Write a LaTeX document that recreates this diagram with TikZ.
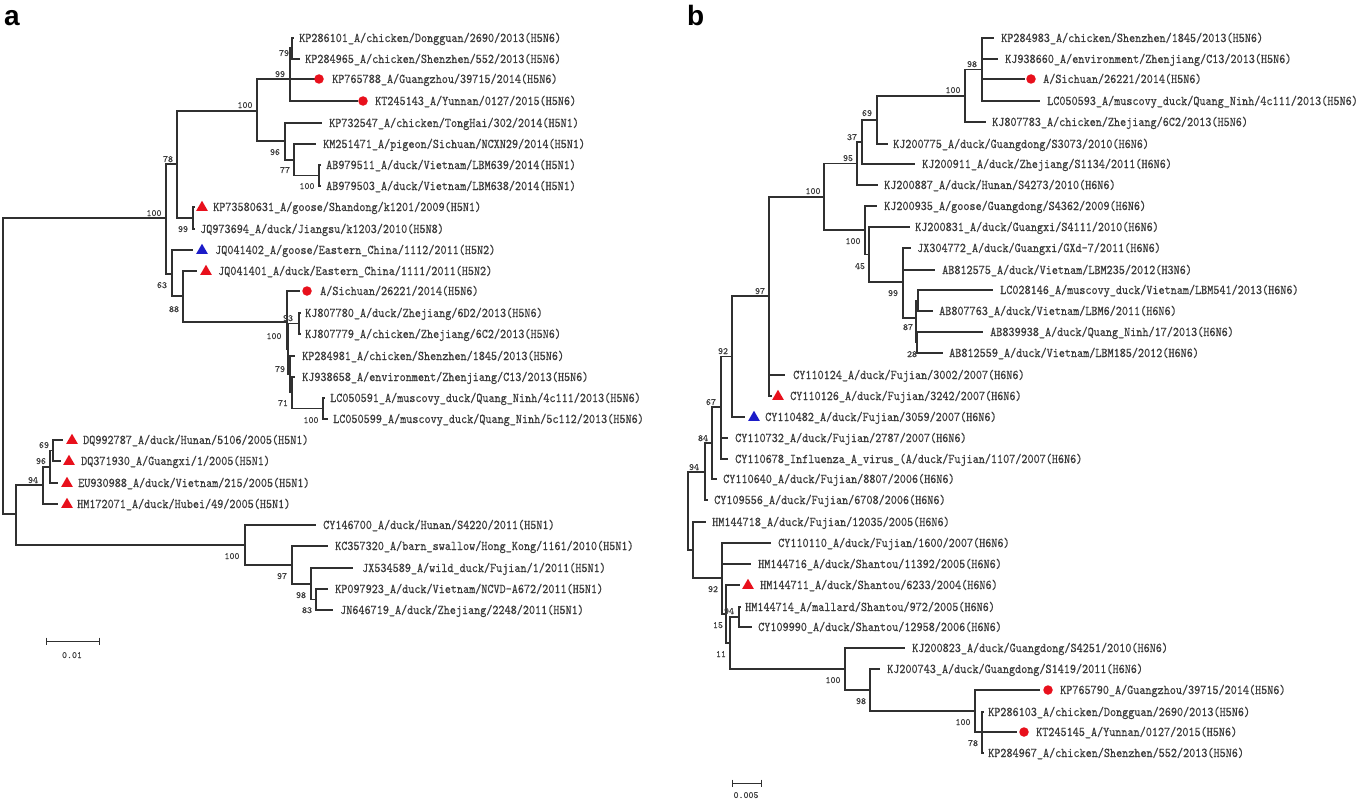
\documentclass[tikz,border=0pt]{standalone}
\usepackage{fontspec}
\usepackage{graphicx}
\newfontfamily\panelfont{Liberation Sans}
\newfontfamily\treefont{lmmono10-regular}[Extension=.otf,FakeBold=0.45]
\usetikzlibrary{shapes.geometric}
\definecolor{treeline}{HTML}{303030}
\definecolor{txtc}{HTML}{3C3C3C}
\definecolor{mred}{HTML}{E8101C}
\definecolor{mblue}{HTML}{1C1CC8}
\newcommand\lf[1]{\scalebox{1}[1.15]{#1}}
\newcommand\lfnode[4]{\node[leaf] (#1) at (#2,#3) {\lf{#4}};}
\newcommand\bsnode[4]{\node[bs] (#1) at (#2,#3) {#4};}
\begin{document}
\begin{tikzpicture}[x=1pt,y=-1pt,
  br/.style={draw=treeline,line width=1.1pt},
  leaf/.style={anchor=west,inner sep=0pt,text=txtc,font=\treefont\fontsize{11.6}{13}\selectfont,text height=8pt,text depth=0pt},
  bs/.style={inner sep=0pt,text=txtc,font=\treefont\fontsize{9.5}{10}\selectfont,text height=6pt,text depth=0pt},
  rc/.style={circle,fill=mred,inner sep=0pt,minimum size=9.5pt},
  rt/.style={regular polygon,regular polygon sides=3,fill=mred,inner sep=0pt,minimum size=13.5pt},
  bt/.style={rt,fill=mblue},
  plbl/.style={anchor=base west,inner sep=0pt,font=\panelfont\bfseries\fontsize{28}{28}\selectfont}
]
\fill[white] (0,0) rectangle (1358,800);
\useasboundingbox (0,0) rectangle (1358,800);

\node[plbl] (pa) at (4,26) {a};
\node[plbl] (pb) at (687,26) {b};

% ================= panel a =================
\coordinate (aR) at (3,366);
\coordinate (aA1) at (166,218);
\coordinate (aB) at (177,164);
\coordinate (aN100) at (257,111);
\coordinate (an99) at (290,79);
\coordinate (an79) at (292,48);
\coordinate (an96) at (285,141);
\coordinate (an77) at (294,160);
\coordinate (ac100) at (319,175.5);
\coordinate (aQ99) at (193,218);
\coordinate (aC) at (172,274);
\coordinate (aD) at (183,296);
\coordinate (aE) at (287,322);
\coordinate (an100x) at (288,349);
\coordinate (ac93) at (299,323.5);
\coordinate (an79b) at (290,374);
\coordinate (an71) at (292,392.5);
\coordinate (acLC) at (323,408.5);
\coordinate (aL) at (16,514);
\coordinate (an94) at (43,485);
\coordinate (an96a) at (50,467);
\coordinate (an69) at (53,450.5);
\coordinate (an100b) at (245,545);
\coordinate (an97) at (292,565);
\coordinate (an98) at (311,584);
\coordinate (an83) at (316,599.5);

\coordinate (t01) at (294,38);
\coordinate (t02) at (300,59);
\coordinate (t03) at (315,79);
\coordinate (t04) at (358,101);
\coordinate (t05) at (322,123);
\coordinate (t06) at (316,144);
\coordinate (t07) at (321,165);
\coordinate (t08) at (321,186);
\coordinate (t09) at (195,207);
\coordinate (t10) at (195,229);
\coordinate (t11) at (193,250);
\coordinate (t12) at (197,271);
\coordinate (t13) at (300,291);
\coordinate (t14) at (301,313);
\coordinate (t15) at (301,334);
\coordinate (t16) at (295,356);
\coordinate (t17) at (295,377);
\coordinate (t18) at (325,398);
\coordinate (t19) at (328,419);
\coordinate (t20) at (63,440);
\coordinate (t21) at (61,461);
\coordinate (t22) at (58,483);
\coordinate (t23) at (58,504);
\coordinate (t24) at (316,525);
\coordinate (t25) at (328,546);
\coordinate (t26) at (353,568);
\coordinate (t27) at (328,589);
\coordinate (t28) at (333,610);

\foreach \p/\c in {aR/aA1,aR/aL,aA1/aB,aA1/aC,aB/aN100,aB/aQ99,aN100/an99,aN100/an96,
  an99/an79,an99/t03,an99/t04,an79/t01,an79/t02,an96/t05,an96/an77,an77/t06,an77/ac100,
  ac100/t07,ac100/t08,aQ99/t09,aQ99/t10,aC/t11,aC/aD,aD/t12,aD/aE,aE/t13,aE/an100x,
  an100x/ac93,an100x/an79b,ac93/t14,ac93/t15,an79b/t16,an79b/an71,an71/t17,an71/acLC,
  acLC/t18,acLC/t19,aL/an94,aL/an100b,an94/an96a,an94/t23,an96a/an69,an96a/t22,
  an69/t20,an69/t21,an100b/t24,an100b/an97,an97/t25,an97/an98,an98/t26,an98/an83,
  an83/t27,an83/t28}
  \draw[br] (\p) |- (\c);

\node[rc] (ma03) at (319,79) {};
\node[rc] (ma04) at (363,101) {};
\node[rt] (ma09) at (202,207.5) {};
\node[bt] (ma11) at (202,250.5) {};
\node[rt] (ma12) at (206,271.5) {};
\node[rc] (ma13) at (307,291) {};
\node[rt] (ma20) at (72,440.5) {};
\node[rt] (ma21) at (69,461.5) {};
\node[rt] (ma22) at (67,483.5) {};
\node[rt] (ma23) at (67,504.5) {};

\lfnode{l01}{299}{38}{KP286101\_A/chicken/Dongguan/2690/2013(H5N6)}
\lfnode{l02}{305}{59}{KP284965\_A/chicken/Shenzhen/552/2013(H5N6)}
\lfnode{l03}{332}{79}{KP765788\_A/Guangzhou/39715/2014(H5N6)}
\lfnode{l04}{375}{101}{KT245143\_A/Yunnan/0127/2015(H5N6)}
\lfnode{l05}{329}{123}{KP732547\_A/chicken/TongHai/302/2014(H5N1)}
\lfnode{l06}{323}{144}{KM251471\_A/pigeon/Sichuan/NCXN29/2014(H5N1)}
\lfnode{l07}{326}{165}{AB979511\_A/duck/Vietnam/LBM639/2014(H5N1)}
\lfnode{l08}{326}{186}{AB979503\_A/duck/Vietnam/LBM638/2014(H5N1)}
\lfnode{l09}{213}{207}{KP73580631\_A/goose/Shandong/k1201/2009(H5N1)}
\lfnode{l10}{200}{229}{JQ973694\_A/duck/Jiangsu/k1203/2010(H5N8)}
\lfnode{l11}{215}{250}{JQ041402\_A/goose/Eastern\_China/1112/2011(H5N2)}
\lfnode{l12}{218}{271}{JQ041401\_A/duck/Eastern\_China/1111/2011(H5N2)}
\lfnode{l13}{320}{291}{A/Sichuan/26221/2014(H5N6)}
\lfnode{l14}{305}{313}{KJ807780\_A/duck/Zhejiang/6D2/2013(H5N6)}
\lfnode{l15}{305}{334}{KJ807779\_A/chicken/Zhejiang/6C2/2013(H5N6)}
\lfnode{l16}{302}{356}{KP284981\_A/chicken/Shenzhen/1845/2013(H5N6)}
\lfnode{l17}{302}{377}{KJ938658\_A/environment/Zhenjiang/C13/2013(H5N6)}
\lfnode{l18}{330}{398}{LC050591\_A/muscovy\_duck/Quang\_Ninh/4c111/2013(H5N6)}
\lfnode{l19}{333}{419}{LC050599\_A/muscovy\_duck/Quang\_Ninh/5c112/2013(H5N6)}
\lfnode{l20}{83}{440}{DQ992787\_A/duck/Hunan/5106/2005(H5N1)}
\lfnode{l21}{81}{461}{DQ371930\_A/Guangxi/1/2005(H5N1)}
\lfnode{l22}{78}{483}{EU930988\_A/duck/Vietnam/215/2005(H5N1)}
\lfnode{l23}{77}{504}{HM172071\_A/duck/Hubei/49/2005(H5N1)}
\lfnode{l24}{323}{525}{CY146700\_A/duck/Hunan/S4220/2011(H5N1)}
\lfnode{l25}{335}{546}{KC357320\_A/barn\_swallow/Hong\_Kong/1161/2010(H5N1)}
\lfnode{l26}{362}{568}{JX534589\_A/wild\_duck/Fujian/1/2011(H5N1)}
\lfnode{l27}{335}{589}{KP097923\_A/duck/Vietnam/NCVD-A672/2011(H5N1)}
\lfnode{l28}{340}{610}{JN646719\_A/duck/Zhejiang/2248/2011(H5N1)}

\bsnode{ba01}{154}{213}{100}
\bsnode{ba02}{168}{159}{78}
\bsnode{ba03}{245}{105}{100}
\bsnode{ba04}{284}{53}{79}
\bsnode{ba05}{280}{74}{99}
\bsnode{ba06}{275}{152}{96}
\bsnode{ba07}{285}{170}{77}
\bsnode{ba08}{307}{186}{100}
\bsnode{ba09}{183}{229}{99}
\bsnode{ba10}{162}{285}{63}
\bsnode{ba11}{174}{309}{88}
\bsnode{ba12}{288}{318}{93}
\bsnode{ba13}{274}{336}{100}
\bsnode{ba14}{280}{369}{79}
\bsnode{ba15}{283}{403}{71}
\bsnode{ba16}{311}{420}{100}
\bsnode{ba17}{44}{445}{69}
\bsnode{ba18}{41}{461}{96}
\bsnode{ba19}{33}{480}{94}
\bsnode{ba20}{232}{556}{100}
\bsnode{ba21}{282}{576}{97}
\bsnode{ba22}{301}{595}{98}
\bsnode{ba23}{307}{610}{83}

\coordinate (sa1) at (46,641);
\coordinate (sa2) at (99,641);
\draw[br,line width=1pt] (sa1) -- (sa2);
\draw[br,line width=1pt] (sa1) ++(0,-3.5) -- ++(0,7);
\draw[br,line width=1pt] (sa2) ++(0,-3.5) -- ++(0,7);
\bsnode{sal}{72}{655}{0.01}

% ================= panel b =================
\coordinate (bR) at (688,511);
\coordinate (bn94) at (705,472);
\coordinate (bn84) at (712,443);
\coordinate (bn67) at (721,407);
\coordinate (bn92) at (732,356.5);
\coordinate (bn97) at (769,296);
\coordinate (bn100b) at (824,197);
\coordinate (bn95) at (857,163.5);
\coordinate (bn37) at (862,142);
\coordinate (bn69) at (877,120);
\coordinate (bn100t) at (965,96);
\coordinate (bn98t) at (982,69.5);
\coordinate (bn100c) at (865,230);
\coordinate (bn45) at (869,254.5);
\coordinate (bn99) at (903,282);
\coordinate (bn87) at (916,318);
\coordinate (bnX) at (918,300.5);
\coordinate (bn28) at (917,342.5);
\coordinate (bY) at (693,550);
\coordinate (bn92b) at (722,578);
\coordinate (bnP) at (726,614);
\coordinate (bnQ) at (730,643);
\coordinate (bc94) at (739,617);
\coordinate (bn100d) at (845,669);
\coordinate (bn98d) at (870,690);
\coordinate (bn100e) at (975,711);
\coordinate (bn78) at (976,732);
\coordinate (bc78) at (982,732.5);

\coordinate (u01) at (994,38);
\coordinate (u02) at (998,59);
\coordinate (u03) at (1025,79);
\coordinate (u04) at (1040,101);
\coordinate (u05) at (986,122);
\coordinate (u06) at (888,144);
\coordinate (u07) at (915,164);
\coordinate (u08) at (878,185);
\coordinate (u09) at (877,206);
\coordinate (u10) at (910,227);
\coordinate (u11) at (911,248);
\coordinate (u12) at (935,270);
\coordinate (u13) at (993,290);
\coordinate (u14) at (933,311);
\coordinate (u15) at (983,332);
\coordinate (u16) at (943,353);
\coordinate (u17) at (785,375);
\coordinate (u18) at (772,396);
\coordinate (u19) at (745,417);
\coordinate (u20) at (728,438);
\coordinate (u21) at (728,459);
\coordinate (u22) at (717,479);
\coordinate (u23) at (708,500);
\coordinate (u24) at (706,522);
\coordinate (u25) at (771,543);
\coordinate (u26) at (751,564);
\coordinate (u27) at (740,585);
\coordinate (u28) at (741,607);
\coordinate (u29) at (752,627);
\coordinate (u30) at (905,648);
\coordinate (u31) at (880,669);
\coordinate (u32) at (1040,690);
\coordinate (u33) at (984,712);
\coordinate (u34) at (1017,732);
\coordinate (u35) at (984,753);

\foreach \p/\c in {bR/bn94,bR/bY,bn94/bn84,bn94/u23,bn84/bn67,bn84/u22,bn67/bn92,bn67/u20,
  bn67/u21,bn92/bn97,bn92/u19,bn97/bn100b,bn97/u17,bn97/u18,bn100b/bn95,bn100b/bn100c,
  bn95/bn37,bn95/u08,bn37/bn69,bn37/u07,bn69/bn100t,bn69/u06,bn100t/bn98t,bn100t/u05,
  bn98t/u01,bn98t/u02,bn98t/u03,bn98t/u04,bn100c/u09,bn100c/bn45,bn45/u10,bn45/bn99,
  bn99/u11,bn99/u12,bn99/bn87,bn87/bnX,bn87/bn28,bnX/u13,bnX/u14,bn28/u15,bn28/u16,
  bY/u24,bY/bn92b,bn92b/u25,bn92b/u26,bn92b/bnP,bnP/u27,bnP/bnQ,bnQ/bc94,bnQ/bn100d,
  bc94/u28,bc94/u29,bn100d/u30,bn100d/bn98d,bn98d/u31,bn98d/bn100e,bn100e/u32,
  bn100e/bn78,bn78/u34,bn78/bc78,bc78/u33,bc78/u35}
  \draw[br] (\p) |- (\c);

\node[rc] (mb03) at (1031,79) {};
\node[rt] (mb18) at (778,396.5) {};
\node[bt] (mb19) at (754,417.5) {};
\node[rt] (mb27) at (748,585.5) {};
\node[rc] (mb32) at (1048,690) {};
\node[rc] (mb34) at (1024,732) {};

\lfnode{k01}{1001}{38}{KP284983\_A/chicken/Shenzhen/1845/2013(H5N6)}
\lfnode{k02}{1005}{59}{KJ938660\_A/environment/Zhenjiang/C13/2013(H5N6)}
\lfnode{k03}{1043}{79}{A/Sichuan/26221/2014(H5N6)}
\lfnode{k04}{1047}{101}{LC050593\_A/muscovy\_duck/Quang\_Ninh/4c111/2013(H5N6)}
\lfnode{k05}{992}{122}{KJ807783\_A/chicken/Zhejiang/6C2/2013(H5N6)}
\lfnode{k06}{893}{144}{KJ200775\_A/duck/Guangdong/S3073/2010(H6N6)}
\lfnode{k07}{922}{164}{KJ200911\_A/duck/Zhejiang/S1134/2011(H6N6)}
\lfnode{k08}{884}{185}{KJ200887\_A/duck/Hunan/S4273/2010(H6N6)}
\lfnode{k09}{884}{206}{KJ200935\_A/goose/Guangdong/S4362/2009(H6N6)}
\lfnode{k10}{915}{227}{KJ200831\_A/duck/Guangxi/S4111/2010(H6N6)}
\lfnode{k11}{917}{248}{JX304772\_A/duck/Guangxi/GXd-7/2011(H6N6)}
\lfnode{k12}{942}{270}{AB812575\_A/duck/Vietnam/LBM235/2012(H3N6)}
\lfnode{k13}{1000}{290}{LC028146\_A/muscovy\_duck/Vietnam/LBM541/2013(H6N6)}
\lfnode{k14}{939}{311}{AB807763\_A/duck/Vietnam/LBM6/2011(H6N6)}
\lfnode{k15}{990}{332}{AB839938\_A/duck/Quang\_Ninh/17/2013(H6N6)}
\lfnode{k16}{949}{353}{AB812559\_A/duck/Vietnam/LBM185/2012(H6N6)}
\lfnode{k17}{793}{375}{CY110124\_A/duck/Fujian/3002/2007(H6N6)}
\lfnode{k18}{790}{396}{CY110126\_A/duck/Fujian/3242/2007(H6N6)}
\lfnode{k19}{765}{417}{CY110482\_A/duck/Fujian/3059/2007(H6N6)}
\lfnode{k20}{735}{438}{CY110732\_A/duck/Fujian/2787/2007(H6N6)}
\lfnode{k21}{735}{459}{CY110678\_Influenza\_A\_virus\_(A/duck/Fujian/1107/2007(H6N6)}
\lfnode{k22}{723}{479}{CY110640\_A/duck/Fujian/8807/2006(H6N6)}
\lfnode{k23}{714}{500}{CY109556\_A/duck/Fujian/6708/2006(H6N6)}
\lfnode{k24}{712}{522}{HM144718\_A/duck/Fujian/12035/2005(H6N6)}
\lfnode{k25}{778}{543}{CY110110\_A/duck/Fujian/1600/2007(H6N6)}
\lfnode{k26}{758}{564}{HM144716\_A/duck/Shantou/11392/2005(H6N6)}
\lfnode{k27}{760}{585}{HM144711\_A/duck/Shantou/6233/2004(H6N6)}
\lfnode{k28}{745}{607}{HM144714\_A/mallard/Shantou/972/2005(H6N6)}
\lfnode{k29}{758}{627}{CY109990\_A/duck/Shantou/12958/2006(H6N6)}
\lfnode{k30}{912}{648}{KJ200823\_A/duck/Guangdong/S4251/2010(H6N6)}
\lfnode{k31}{887}{669}{KJ200743\_A/duck/Guangdong/S1419/2011(H6N6)}
\lfnode{k32}{1060}{690}{KP765790\_A/Guangzhou/39715/2014(H5N6)}
\lfnode{k33}{988}{712}{KP286103\_A/chicken/Dongguan/2690/2013(H5N6)}
\lfnode{k34}{1036}{732}{KT245145\_A/Yunnan/0127/2015(H5N6)}
\lfnode{k35}{988}{753}{KP284967\_A/chicken/Shenzhen/552/2013(H5N6)}

\bsnode{bb01}{953}{90}{100}
\bsnode{bb02}{972}{64}{98}
\bsnode{bb03}{867}{113}{69}
\bsnode{bb04}{852}{137}{37}
\bsnode{bb05}{848}{158}{95}
\bsnode{bb06}{813}{191}{100}
\bsnode{bb07}{853}{241}{100}
\bsnode{bb08}{860}{266}{45}
\bsnode{bb09}{893}{293}{99}
\bsnode{bb10}{908}{327}{87}
\bsnode{bb11}{912}{354}{28}
\bsnode{bb12}{760}{291}{97}
\bsnode{bb13}{723}{351}{92}
\bsnode{bb14}{711}{402}{67}
\bsnode{bb15}{703}{438}{84}
\bsnode{bb16}{694}{467}{94}
\bsnode{bb17}{713}{589}{92}
\bsnode{bb18}{729}{611}{94}
\bsnode{bb19}{718}{625}{15}
\bsnode{bb20}{721}{654}{11}
\bsnode{bb21}{833}{680}{100}
\bsnode{bb22}{861}{701}{98}
\bsnode{bb23}{963}{722}{100}
\bsnode{bb24}{973}{743}{78}

\coordinate (sb1) at (732,783);
\coordinate (sb2) at (761,783);
\draw[br,line width=1pt] (sb1) -- (sb2);
\draw[br,line width=1pt] (sb1) ++(0,-3.5) -- ++(0,7);
\draw[br,line width=1pt] (sb2) ++(0,-3.5) -- ++(0,7);
\bsnode{sbl}{746}{795}{0.005}
\end{tikzpicture}
\end{document}
